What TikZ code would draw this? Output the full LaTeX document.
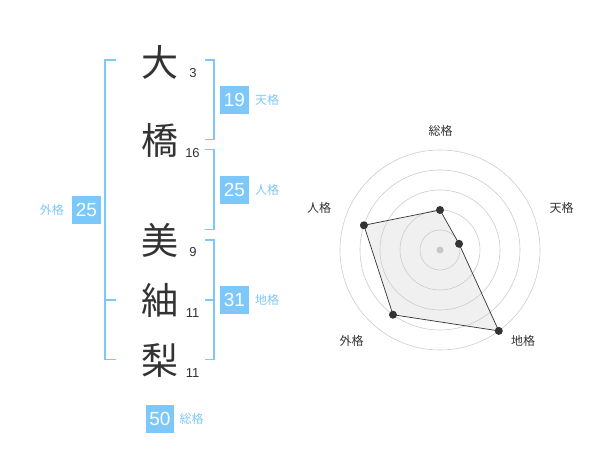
\documentclass[tikz,border=0pt]{standalone}
\usepackage{fontspec}
\setmainfont{Liberation Sans}
\newfontfamily\jfont{Noto Sans CJK JP}
\usetikzlibrary{positioning,calc}
\definecolor{kakublue}{RGB}{125,200,250}
\definecolor{ink}{RGB}{51,51,51}
\tikzset{
  kanji/.style={font=\jfont\fontsize{37}{37}\selectfont,text=ink,inner sep=0pt},
  strokes/.style={font=\fontsize{13}{13}\selectfont,text=ink,inner sep=0pt},
  valbox/.style={fill=kakublue,text=white,font=\fontsize{19}{19}\selectfont,minimum size=28.5pt,inner sep=0pt},
  kaku/.style={font=\jfont\fontsize{12}{12}\selectfont,text=kakublue,inner sep=0pt},
  brace/.style={draw=kakublue,line width=1.6pt},
  ring/.style={draw=black!20,line width=.6pt},
  axislabel/.style={font=\jfont\fontsize{12}{12}\selectfont,text=ink,inner sep=0pt},
}

\begin{document}
\begin{tikzpicture}[x=1pt,y=-1pt]
\useasboundingbox (0,0) rectangle (600,470);
% name
\node[kanji] (k1) at (160,62) {大};
\node[kanji] (k2) at (160,140) {橋};
\node[kanji] (k3) at (160,240) {美};
\node[kanji] (k4) at (160,300) {紬};
\node[kanji] (k5) at (160,360) {梨};
\node[strokes] (n1) at (193,73) {3};
\node[strokes] (n2) at (192.5,153) {16};
\node[strokes] (n3) at (193,252) {9};
\node[strokes] (n4) at (192.5,313) {11};
\node[strokes] (n5) at (192.5,373) {11};
% brackets
\draw[brace] (116,60) -| (105,359.5) -- (116,359.5);
\draw[brace] (105,300) -- (116,300);
\draw[brace] (205,60) -| (214,139.5) -- (205,139.5);
\draw[brace] (205,149.5) -| (214,229.5) -- (205,229.5);
\draw[brace] (205,240) -| (214,359.5) -- (205,359.5);
\draw[brace] (214,300) -- (205,300);
% values
\node[valbox] (ten) at (234.5,100) {19};
\node[kaku,right=6pt of ten] {天格};
\node[valbox] (jin) at (234.5,190) {25};
\node[kaku,right=6pt of jin] {人格};
\node[valbox] (chi) at (234.5,300) {31};
\node[kaku,right=6pt of chi] {地格};
\node[valbox] (gai) at (86.5,210) {25};
\node[kaku,left=8pt of gai] {外格};
\node[valbox] (sou) at (160,419) {50};
\node[kaku,right=5pt of sou] {総格};
% radar
\coordinate (c) at (440,250);
\coordinate (p1) at ($(c)+(-90:40)$);
\coordinate (p2) at ($(c)+(-18:20)$);
\coordinate (p3) at ($(c)+(54:100)$);
\coordinate (p4) at ($(c)+(126:80)$);
\coordinate (p5) at ($(c)+(-162:80)$);
\fill[black!6] (p1) -- (p2) -- (p3) -- (p4) -- (p5) -- cycle;
\foreach \r in {20,40,...,100} \draw[ring] (c) circle[radius=\r];
\fill[black!22] (c) circle[radius=3.5];
\draw[ink,line width=.7pt] (p1) -- (p2) -- (p3) -- (p4) -- (p5) -- cycle;
\foreach \p in {p1,p2,p3,p4,p5} \fill[ink] (\p) circle[radius=4];
\node[axislabel] (l1) at (440.7,130.5) {総格};
\node[axislabel] (l2) at (561.7,208) {天格};
\node[axislabel] (l3) at (523,340.5) {地格};
\node[axislabel] (l4) at (351.7,340.5) {外格};
\node[axislabel] (l5) at (319,208.3) {人格};
\end{tikzpicture}
\end{document}
